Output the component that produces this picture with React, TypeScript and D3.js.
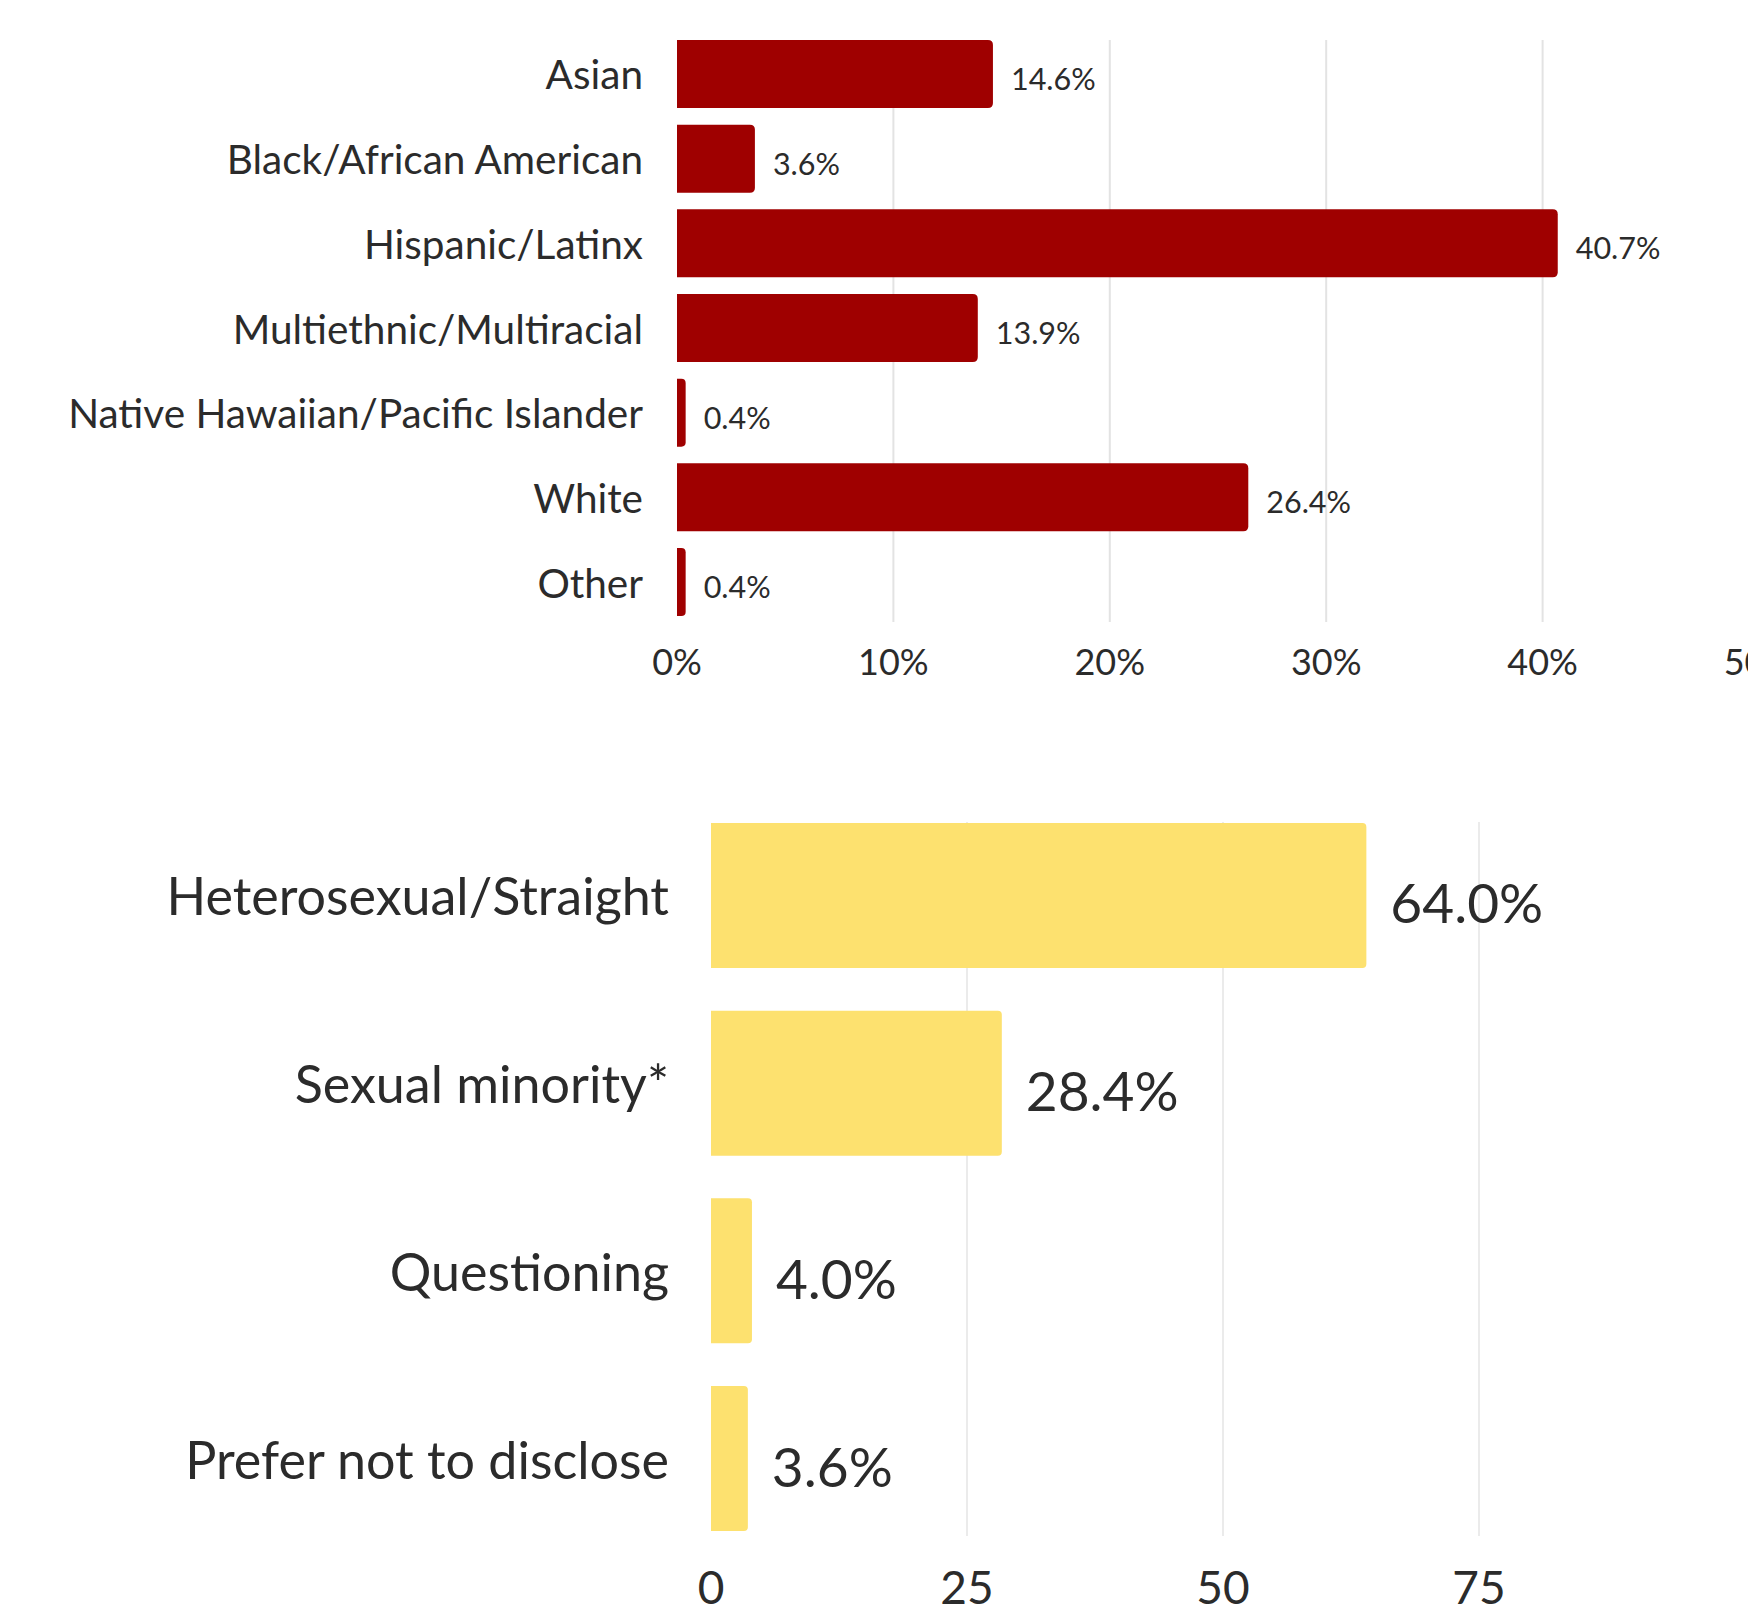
import React from 'react';
import * as d3 from 'd3';

const raceCategories = [
  'Asian',
  'Black/African American',
  'Hispanic/Latinx',
  'Multiethnic/Multiracial',
  'Native Hawaiian/Pacific Islander',
  'White',
  'Other',
];
const raceValues = [14.6, 3.6, 40.7, 13.9, 0.4, 26.4, 0.4];
const raceTicks = [0, 10, 20, 30, 40, 50];

const orientationCategories = [
  'Heterosexual/Straight',
  'Sexual minority*',
  'Questioning',
  'Prefer not to disclose',
];
const orientationValues = [64.0, 28.4, 4.0, 3.6];
const orientationTicks = [0, 25, 50, 75];

const FONT = 'Lato, "Noto Sans", sans-serif';
const RED = '#9f0000';
const YELLOW = '#fde16f';
const TEXT = '#2b2b2b';

function rightRoundedBar(x0: number, y: number, w: number, h: number, r: number) {
  const rr = Math.min(r, w / 2, h / 2);
  const p = d3.path();
  p.moveTo(x0, y);
  p.lineTo(x0 + w - rr, y);
  p.quadraticCurveTo(x0 + w, y, x0 + w, y + rr);
  p.lineTo(x0 + w, y + h - rr);
  p.quadraticCurveTo(x0 + w, y + h, x0 + w - rr, y + h);
  p.lineTo(x0, y + h);
  p.closePath();
  return p.toString();
}

export default function App() {
  const W = 1748;
  const H = 1604;

  // Top chart (race/ethnicity)
  const xTop = d3.scaleLinear().domain([0, 50]).range([677, 677 + 1082]);
  const yTop = d3
    .scaleBand<string>()
    .domain(raceCategories)
    .range([40, 616])
    .paddingInner(0.197)
    .paddingOuter(0);
  const fmt = (v: number) => `${v.toFixed(1)}%`;

  // Bottom chart (sexual orientation)
  const xBot = d3.scaleLinear().domain([0, 75]).range([711, 711 + 768]);
  const yBot = d3
    .scaleBand<string>()
    .domain(orientationCategories)
    .range([823, 1531])
    .paddingInner(0.2275)
    .paddingOuter(0);

  return (
    <svg
      width={W}
      height={H}
      viewBox={`0 0 ${W} ${H}`}
      style={{ position: 'absolute', left: 0, top: 0, background: '#fff' }}
      fontFamily={FONT}
    >
      <rect x={0} y={0} width={W} height={H} fill="#fff" />

      {/* ---------- Top chart ---------- */}
      <g>
        {raceTicks
          .filter((t) => t > 0)
          .map((t) => (
            <line
              key={`tg${t}`}
              x1={xTop(t)}
              x2={xTop(t)}
              y1={40}
              y2={622}
              stroke="#e3e3e3"
              strokeWidth={2}
            />
          ))}
        {raceCategories.map((c, i) => {
          const y = yTop(c)!;
          const h = yTop.bandwidth();
          const w = xTop(raceValues[i]) - xTop(0);
          return (
            <g key={c}>
              <path d={rightRoundedBar(xTop(0), y, Math.max(w, 8), h, 5)} fill={RED} />
              <text
                x={643}
                y={y + h / 2}
                textAnchor="end"
                dominantBaseline="central"
                fontSize={40.5}
                fill={TEXT}
              >
                {c}
              </text>
              <text
                x={xTop(0) + Math.max(w, 8) + 18}
                y={y + h / 2 + 4}
                dominantBaseline="central"
                fontSize={30.5}
                fill={TEXT}
              >
                {fmt(raceValues[i])}
              </text>
            </g>
          );
        })}
        {raceTicks.map((t) => (
          <text
            key={`tt${t}`}
            x={xTop(t)}
            y={661}
            textAnchor="middle"
            dominantBaseline="central"
            fontSize={36}
            fill={TEXT}
          >
            {`${t}%`}
          </text>
        ))}
      </g>

      {/* ---------- Bottom chart ---------- */}
      <g>
        {orientationTicks
          .filter((t) => t > 0)
          .map((t) => (
            <line
              key={`bg${t}`}
              x1={xBot(t)}
              x2={xBot(t)}
              y1={822}
              y2={1536}
              stroke="#ebebeb"
              strokeWidth={2}
            />
          ))}
        {orientationCategories.map((c, i) => {
          const y = yBot(c)!;
          const h = yBot.bandwidth();
          const w = xBot(orientationValues[i]) - xBot(0);
          return (
            <g key={c}>
              <path d={rightRoundedBar(xBot(0), y, w, h, 4)} fill={YELLOW} />
              <text
                x={669}
                y={y + h / 2}
                textAnchor="end"
                dominantBaseline="central"
                fontSize={52}
                fill={TEXT}
              >
                {c}
              </text>
              <text
                x={xBot(0) + w + 24}
                y={y + h / 2 + 7}
                dominantBaseline="central"
                fontSize={55}
                fill={TEXT}
              >
                {fmt(orientationValues[i])}
              </text>
            </g>
          );
        })}
        {orientationTicks.map((t) => (
          <text
            key={`bt${t}`}
            x={xBot(t)}
            y={1604}
            textAnchor="middle"
            fontSize={46}
            fill={TEXT}
          >
            {`${t}`}
          </text>
        ))}
      </g>
    </svg>
  );
}
